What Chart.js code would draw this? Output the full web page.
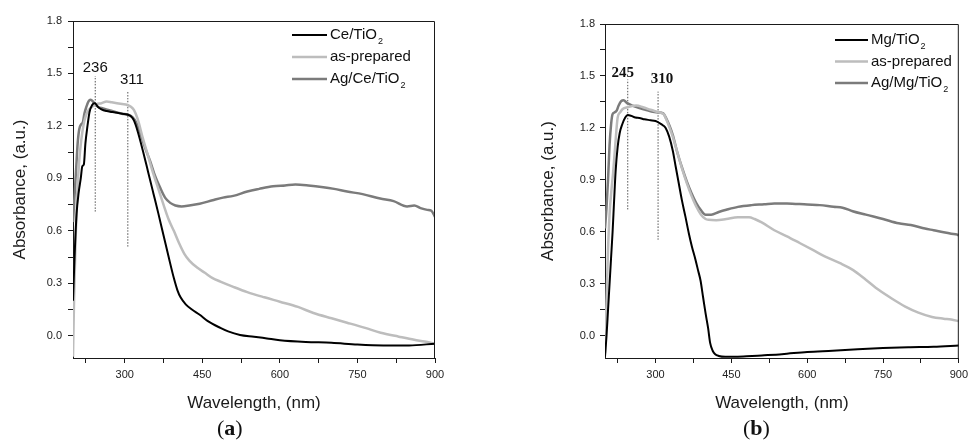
<!DOCTYPE html>
<html lang="en">
<head>
<meta charset="UTF-8">
<title>UV-Vis absorbance spectra</title>
<script src="https://cdn.jsdelivr.net/npm/chart.js"></script>
<style>
  body { margin: 0; background: #fff; width: 973px; height: 444px; position: relative; overflow: hidden; }
  canvas { position: absolute; top: 0; }
  #chartA { left: 0; }
  #chartB { left: 486px; }
  .caption { position: absolute; top: 417px; font: 22px "Liberation Serif", "DejaVu Serif", serif; color: #111; line-height: 22px; }
</style>
</head>
<body>
<canvas id="chartA" width="486" height="444"></canvas>
<canvas id="chartB" width="487" height="444"></canvas>
<div class="caption" style="left:217px">(<b>a</b>)</div>
<div class="caption" style="left:743px">(<b>b</b>)</div>

<script>
// ---- axes ----
const xTicks = [225, 300, 375, 450, 525, 600, 675, 750, 825, 900];
const xTickLabels = ['', '300', '', '450', '', '600', '', '750', '', '900'];
const yTicks = [0, 0.15, 0.3, 0.45, 0.6, 0.75, 0.9, 1.05, 1.2, 1.35, 1.5, 1.65, 1.8];
const yTickLabels = ['0.0', '', '0.3', '', '0.6', '', '0.9', '', '1.2', '', '1.5', '', '1.8'];

// ---- panel (a) ----
const ceWl  = [200, 203, 207, 211, 215, 218, 221, 224, 228, 232, 237, 242, 248, 255, 265, 275, 285, 295, 305, 312, 318, 325, 335, 345, 355, 365, 375, 385, 395, 402, 408, 418, 430, 445, 460, 485, 500, 523, 550, 575, 600, 650, 700, 750, 800, 850, 900];
const ceAbs = [0.2, 0.45, 0.7, 0.82, 0.9, 0.97, 0.98, 1.1, 1.2, 1.28, 1.32, 1.33, 1.31, 1.295, 1.285, 1.28, 1.275, 1.27, 1.265, 1.255, 1.23, 1.17, 1.06, 0.94, 0.82, 0.7, 0.575, 0.45, 0.33, 0.26, 0.22, 0.18, 0.15, 0.12, 0.085, 0.045, 0.025, 0.005, -0.005, -0.015, -0.025, -0.035, -0.04, -0.05, -0.055, -0.055, -0.045];

const prepAWl  = [200, 202, 205, 208, 212, 216, 220, 225, 230, 237, 245, 255, 265, 275, 285, 295, 305, 312, 318, 325, 335, 345, 355, 365, 375, 385, 395, 405, 415, 425, 440, 455, 470, 485, 510, 537, 570, 600, 635, 665, 700, 730, 765, 795, 830, 860, 880, 900];
const prepAAbs = [-0.12, 0.2, 0.55, 0.8, 1.0, 1.12, 1.2, 1.26, 1.29, 1.31, 1.325, 1.33, 1.34, 1.335, 1.33, 1.325, 1.32, 1.31, 1.29, 1.24, 1.13, 1.03, 0.93, 0.84, 0.75, 0.665, 0.6, 0.53, 0.47, 0.43, 0.39, 0.36, 0.33, 0.31, 0.28, 0.25, 0.22, 0.195, 0.165, 0.13, 0.1, 0.075, 0.045, 0.017, -0.005, -0.023, -0.033, -0.045];

const agCeWl  = [200, 203, 206, 209, 212, 216, 219, 222, 226, 230, 234, 240, 248, 258, 270, 282, 295, 305, 315, 322, 330, 340, 349, 358, 368, 378, 388, 398, 410, 425, 445, 470, 490, 510, 537, 560, 587, 610, 630, 655, 684, 705, 730, 760, 794, 820, 846, 860, 872, 885, 893, 900];
const agCeAbs = [0.65, 0.8, 0.95, 1.1, 1.18, 1.21, 1.22, 1.27, 1.31, 1.34, 1.35, 1.335, 1.31, 1.3, 1.29, 1.28, 1.27, 1.265, 1.25, 1.22, 1.16, 1.07, 1.0, 0.92, 0.85, 0.79, 0.76, 0.745, 0.74, 0.745, 0.755, 0.775, 0.79, 0.8, 0.825, 0.84, 0.855, 0.86, 0.865, 0.86, 0.85, 0.84, 0.825, 0.81, 0.785, 0.77, 0.74, 0.745, 0.73, 0.72, 0.715, 0.68];

const peakWlA = [243, 306];
const peakLowA = [0.71, 0.51];
const peakHighA = [1.485, 1.40];
const peakLabelsA = ['236', '311'];
const peakLabelWlA = [243, 314];
const peakLabelAbsA = [1.534, 1.462];

// ---- panel (b) ----
const mgWl  = [200, 203, 206, 209, 212, 215, 218, 221, 225, 229, 234, 240, 245, 252, 260, 268, 278, 290, 300, 307, 315, 320, 327, 334, 340, 346, 352, 359, 366, 372, 379, 384, 389, 394, 399, 404, 408, 413, 418, 425, 438, 455, 480, 510, 550, 600, 650, 700, 750, 800, 850, 900];
const mgAbs = [-0.12, 0.0, 0.15, 0.3, 0.45, 0.6, 0.78, 0.95, 1.09, 1.17, 1.22, 1.26, 1.275, 1.27, 1.26, 1.258, 1.25, 1.245, 1.24, 1.23, 1.215, 1.2, 1.15, 1.07, 0.975, 0.88, 0.785, 0.69, 0.59, 0.515, 0.44, 0.38, 0.32, 0.225, 0.13, 0.045, -0.04, -0.085, -0.105, -0.115, -0.12, -0.12, -0.117, -0.112, -0.105, -0.092, -0.085, -0.077, -0.07, -0.065, -0.062, -0.055];

const prepBWl  = [200, 203, 206, 209, 213, 216, 220, 225, 230, 235, 245, 262, 275, 290, 307, 316, 322, 328, 334, 343, 352, 362, 371, 380, 390, 399, 405, 420, 440, 463, 485, 496, 510, 535, 560, 586, 612, 638, 665, 691, 716, 742, 768, 794, 820, 847, 870, 885, 900];
const prepBAbs = [-0.1, 0.2, 0.5, 0.7, 0.85, 0.94, 1.09, 1.26, 1.29, 1.31, 1.32, 1.33, 1.32, 1.305, 1.29, 1.28, 1.245, 1.2, 1.15, 1.06, 0.97, 0.88, 0.81, 0.75, 0.7, 0.675, 0.67, 0.668, 0.675, 0.685, 0.685, 0.675, 0.655, 0.61, 0.575, 0.535, 0.495, 0.455, 0.42, 0.38, 0.325, 0.265, 0.215, 0.17, 0.135, 0.11, 0.1, 0.095, 0.085];

const agMgWl  = [200, 203, 206, 209, 212, 215, 219, 223, 227, 232, 237, 243, 250, 258, 268, 280, 292, 305, 315, 322, 328, 334, 343, 352, 362, 371, 380, 390, 399, 410, 425, 440, 463, 490, 515, 535, 560, 600, 625, 652, 670, 690, 716, 750, 781, 805, 833, 850, 870, 885, 897, 900];
const agMgAbs = [0.62, 0.74, 0.9, 1.1, 1.22, 1.28, 1.29, 1.3, 1.33, 1.355, 1.36, 1.345, 1.335, 1.325, 1.315, 1.305, 1.295, 1.29, 1.285, 1.25, 1.21, 1.16, 1.06, 0.975, 0.89, 0.825, 0.77, 0.725, 0.7, 0.7, 0.715, 0.728, 0.745, 0.755, 0.76, 0.765, 0.765, 0.758, 0.755, 0.745, 0.74, 0.72, 0.7, 0.675, 0.65, 0.64, 0.62, 0.61, 0.598, 0.59, 0.585, 0.58];

const peakWlB = [245, 305];
const peakLowB = [0.73, 0.555];
const peakHighB = [1.48, 1.41];
const peakLabelsB = ['245', '310'];
const peakLabelWlB = [235, 313];
const peakLabelAbsB = [1.517, 1.483];

const SANS = '"Liberation Sans", Arial, sans-serif';
const SERIF = '"Liberation Serif", "Times New Roman", serif';

function pts(xs, ys) {
  return xs.map((x, i) => ({ x: x, y: ys[i] }));
}

// little helper to write "TiO₂" with a real lowered subscript
function drawLabel(ctx, text, x, y, size) {
  const parts = text.split('₂');
  ctx.font = size + 'px ' + SANS;
  ctx.textBaseline = 'middle';
  ctx.textAlign = 'left';
  ctx.fillText(parts[0], x, y);
  if (parts.length > 1) {
    const w = ctx.measureText(parts[0]).width;
    ctx.font = Math.round(size * 0.6) + 'px ' + SANS;
    ctx.fillText('2', x + w + 1, y + size * 0.42);
  }
}

const panelDecor = {
  id: 'panelDecor',
  afterDraw(chart, args, opts) {
    const { ctx, chartArea: a, scales: { x, y } } = chart;
    ctx.save();
    // top + right frame
    ctx.strokeStyle = '#1a1a1a';
    ctx.lineWidth = 1;
    ctx.beginPath();
    ctx.moveTo(a.left, a.top + 0.5);
    ctx.lineTo(a.right - 0.5, a.top + 0.5);
    ctx.lineTo(a.right - 0.5, a.bottom);
    ctx.stroke();

    // legend
    const lg = opts.legend;
    chart.data.datasets.filter(d => !d.guide).forEach((d, i) => {
      const ly = lg.y + i * lg.step;
      ctx.strokeStyle = d.borderColor;
      ctx.lineWidth = d.borderWidth;
      ctx.beginPath();
      ctx.moveTo(lg.x, ly);
      ctx.lineTo(lg.x + lg.len, ly);
      ctx.stroke();
      ctx.fillStyle = '#111';
      drawLabel(ctx, d.label, lg.x + lg.len + 3, ly, 15);
    });

    // peak labels
    ctx.fillStyle = '#111';
    ctx.font = opts.peakFont;
    ctx.textAlign = 'center';
    ctx.textBaseline = 'middle';
    opts.peakLabels.forEach((t, i) => {
      ctx.fillText(t, x.getPixelForValue(opts.peakLabelWl[i]), y.getPixelForValue(opts.peakLabelAbs[i]));
    });
    ctx.restore();
  }
};

function buildPanel(id, p) {
  const series = [
    { label: p.names[0], data: pts(p.s1[0], p.s1[1]), borderColor: '#000000', borderWidth: 2 },
    { label: p.names[1], data: pts(p.s2[0], p.s2[1]), borderColor: '#bdbdbd', borderWidth: 2.5 },
    { label: p.names[2], data: pts(p.s3[0], p.s3[1]), borderColor: '#7b7b7b', borderWidth: 2.5 }
  ];
  p.peakWl.forEach((w, i) => {
    series.push({
      guide: true,
      data: [{ x: w, y: p.peakLow[i] }, { x: w, y: p.peakHigh[i] }],
      borderColor: '#555',
      borderWidth: 1,
      borderDash: [1.5, 1.5]
    });
  });

  return new Chart(document.getElementById(id), {
    type: 'line',
    data: { datasets: series },
    options: {
      responsive: false,
      animation: false,
      devicePixelRatio: 1,
      layout: { padding: { left: 0, top: p.top, right: p.right, bottom: 0 } },
      elements: { point: { radius: 0 }, line: { cubicInterpolationMode: 'monotone' } },
      plugins: {
        legend: { display: false },
        tooltip: { enabled: false },
        panelDecor: {
          legend: p.legend,
          peakFont: p.peakFont,
          peakLabels: p.peakLabels,
          peakLabelWl: p.peakLabelWl,
          peakLabelAbs: p.peakLabelAbs
        }
      },
      scales: {
        x: {
          type: 'linear',
          min: 200,
          max: 900,
          afterFit: s => { s.height = 86; },
          afterBuildTicks: s => { s.ticks = xTicks.map(v => ({ value: v })); },
          ticks: {
            autoSkip: false,
            maxRotation: 0,
            padding: 5,
            color: '#222',
            font: { family: SANS, size: 11 },
            callback: (v, i) => xTickLabels[i]
          },
          grid: { drawOnChartArea: false, tickLength: 5, color: '#1a1a1a' },
          border: { color: '#1a1a1a', width: 1 },
          title: {
            display: true,
            text: 'Wavelength, (nm)',
            color: '#1a1a1a',
            font: { family: SANS, size: 17 },
            padding: { top: 0, bottom: 30 }
          }
        },
        y: {
          min: -0.127,
          max: 1.8,
          afterFit: s => { s.width = p.axisLeft; },
          afterBuildTicks: s => { s.ticks = yTicks.map(v => ({ value: v })); },
          ticks: {
            autoSkip: false,
            padding: p.yPad,
            color: '#222',
            font: { family: SANS, size: 11 },
            callback: (v, i) => yTickLabels[i]
          },
          grid: { drawOnChartArea: false, tickLength: 5, color: '#1a1a1a' },
          border: { color: '#1a1a1a', width: 1 },
          title: {
            display: true,
            text: 'Absorbance, (a.u.)',
            color: '#1a1a1a',
            font: { family: SANS, size: 17 },
            padding: { top: p.titlePad, bottom: 0 }
          }
        }
      }
    },
    plugins: [panelDecor]
  });
}

buildPanel('chartA', {
  names: ['Ce/TiO₂', 'as-prepared', 'Ag/Ce/TiO₂'],
  s1: [ceWl, ceAbs], s2: [prepAWl, prepAAbs], s3: [agCeWl, agCeAbs],
  peakWl: peakWlA, peakLow: peakLowA, peakHigh: peakHighA,
  peakLabels: peakLabelsA, peakLabelWl: peakLabelWlA, peakLabelAbs: peakLabelAbsA,
  peakFont: '15px ' + SANS,
  top: 21, right: 51, axisLeft: 73, yPad: 6, titlePad: 10,
  legend: { x: 292, y: 35, step: 22, len: 35 }
});

buildPanel('chartB', {
  names: ['Mg/TiO₂', 'as-prepared', 'Ag/Mg/TiO₂'],
  s1: [mgWl, mgAbs], s2: [prepBWl, prepBAbs], s3: [agMgWl, agMgAbs],
  peakWl: peakWlB, peakLow: peakLowB, peakHigh: peakHighB,
  peakLabels: peakLabelsB, peakLabelWl: peakLabelWlB, peakLabelAbs: peakLabelAbsB,
  peakFont: 'bold 15px ' + SERIF,
  top: 24, right: 10, axisLeft: 119, yPad: 5, titlePad: 52,
  legend: { x: 349, y: 40, step: 21.5, len: 33 }
});
</script>
</body>
</html>
